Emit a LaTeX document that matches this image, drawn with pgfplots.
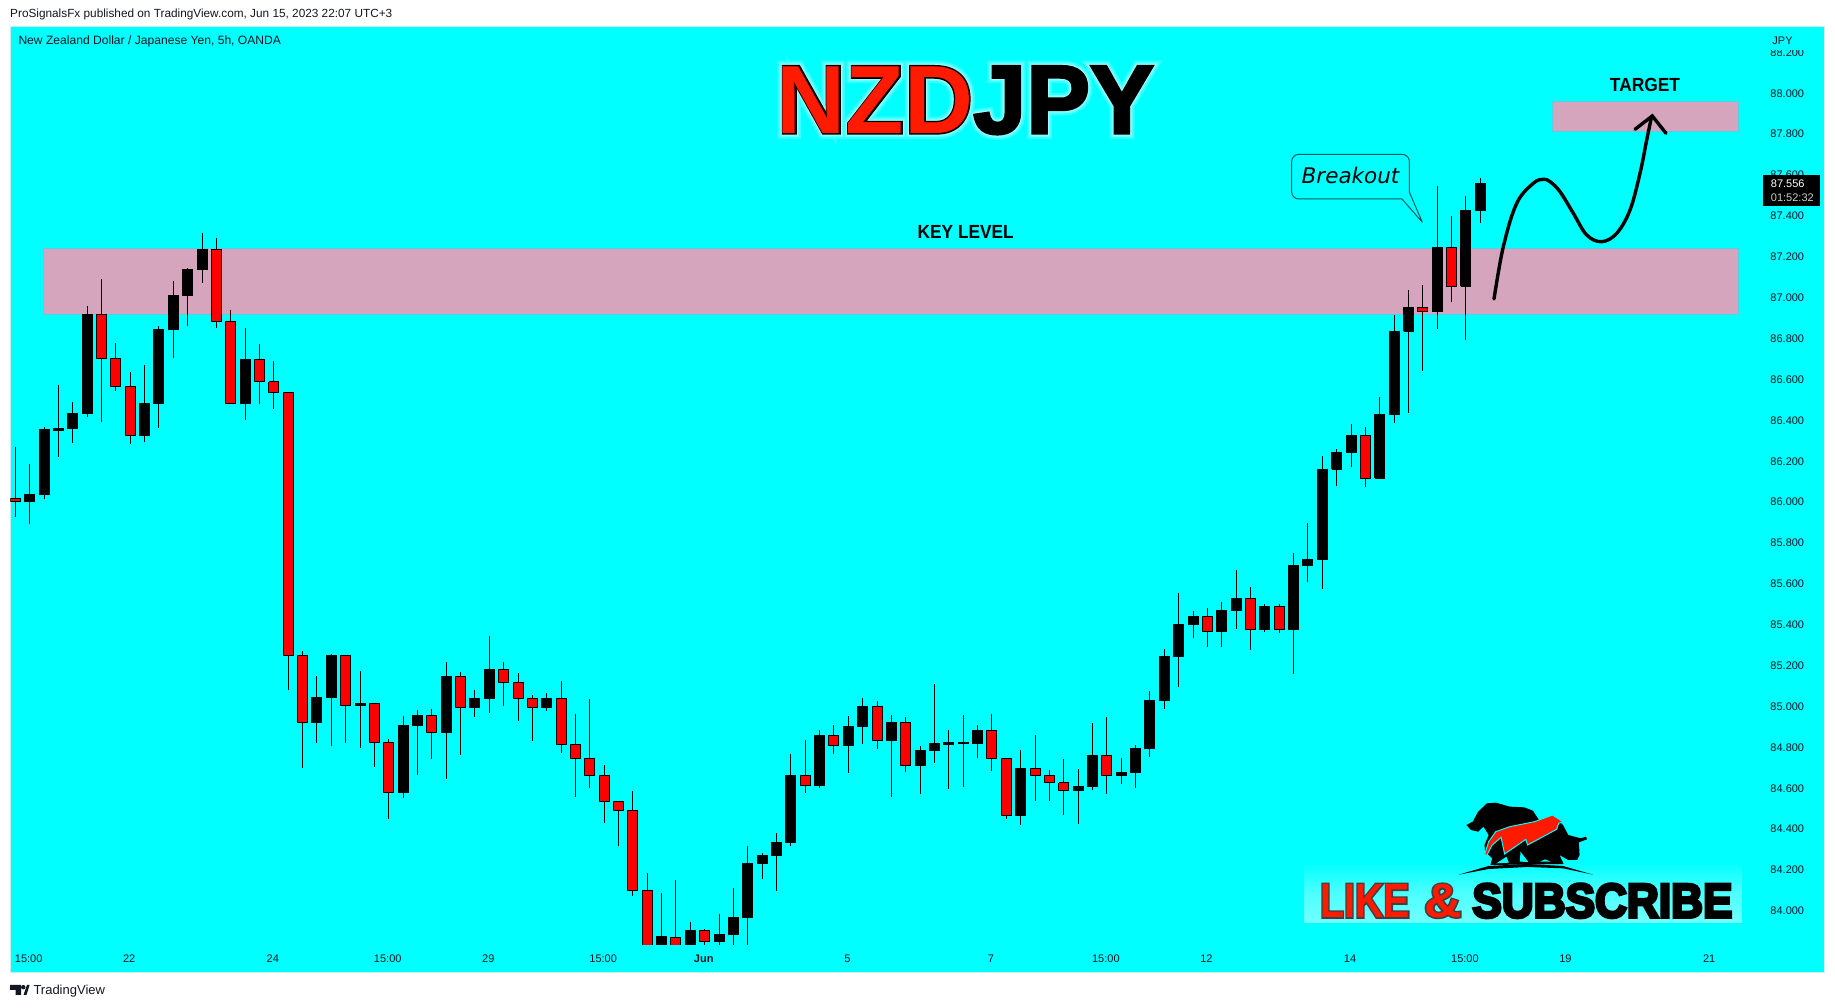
\documentclass[border=0pt]{standalone}
\usepackage{pgfplots}
\pgfplotsset{compat=1.18}
\usepackage{fontspec}
\setmainfont{Liberation Sans}
\newfontfamily\dejavu{DejaVu Sans}
\newfontface\tGa[FakeBold=12]{Liberation Sans Bold}
\newfontface\tGb[FakeBold=8]{Liberation Sans Bold}
\newfontface\tGc[FakeBold=5]{Liberation Sans Bold}
\newfontface\tO[FakeBold=3]{Liberation Sans Bold}
\newfontface\lO[FakeBold=6.5]{Liberation Sans Bold}
\newfontface\tF{Liberation Sans Bold}
\definecolor{bgc}{RGB}{0,255,255}
\definecolor{cndl}{RGB}{255,0,0}
\definecolor{zone}{RGB}{213,165,189}
\definecolor{zoneb}{RGB}{90,205,230}
\definecolor{ink}{RGB}{19,23,34}
\definecolor{tred}{RGB}{255,26,0}
\definecolor{frame}{RGB}{205,238,240}
\newcommand\fs[1]{\fontsize{#1}{#1}\selectfont}
% one candle: index, open, high, low, close
\newcommand\C[5]{%
  \pgfmathsetmacro\xa{#1-0.348}\pgfmathsetmacro\xb{#1+0.348}%
  \addplot[forget plot,black,line width=1pt] coordinates {(#1,#4)(#1,#3)};%
  \ifdim#5pt>#2pt
    \addplot[forget plot,draw=black,fill=black,line width=1pt] coordinates {(\xa,#2)(\xb,#2)(\xb,#5)(\xa,#5)(\xa,#2)};%
  \else
    \addplot[forget plot,draw=black,fill=cndl,line width=1pt] coordinates {(\xa,#2)(\xb,#2)(\xb,#5)(\xa,#5)(\xa,#2)};%
  \fi
}
\begin{document}
\begin{tikzpicture}
\path[fill=white] (0,0) rectangle (1835pt,1008pt);
\useasboundingbox (0,0) rectangle (1835pt,1008pt);
\begin{axis}[
  at={(10.3pt,35.7pt)},anchor=south west,scale only axis,
  width=1814pt,height=945.6pt,
  xmin=-0.348,xmax=125.95,ymin=83.695,ymax=88.321,
  axis background/.style={fill=bgc},
  axis line style={draw=frame,line width=1pt},
  major tick length=0pt,
  ytick={84,84.2,84.4,84.6,84.8,85,85.2,85.4,85.6,85.8,86,86.2,86.4,86.6,86.8,87,87.2,87.4,87.6,87.8,88,88.2},
  yticklabel pos=right,
  /pgf/number format/assume math mode=true,
  /pgf/number format/fixed,/pgf/number format/fixed zerofill,/pgf/number format/precision=3,
  yticklabel style={anchor=east,inner sep=0pt,xshift=-20pt,yshift=-1pt,text=ink,font=\fs{11}},
  xtick={0.93,7.93,17.93,25.93,32.93,40.93,47.93,57.93,67.93,75.93,82.93,92.93,100.93,107.93,117.93},
  xticklabels={15:00,22,24,15:00,29,15:00,{\bfseries Jun},5,7,15:00,12,14,15:00,19,21},
  xticklabel style={anchor=center,inner sep=0pt,yshift=14pt,text=ink,font=\fs{11}},
]
% key level and target zones
\addplot[forget plot,draw=zoneb,fill=zone,line width=0.8pt] coordinates {(1.95,86.914)(119.96,86.914)(119.96,87.235)(1.95,87.235)(1.95,86.914)};
\addplot[forget plot,draw=zoneb,fill=zone,line width=0.8pt] coordinates {(107.01,87.809)(119.96,87.809)(119.96,87.954)(107.01,87.954)(107.01,87.809)};
\C{0}{86.014}{86.263}{85.924}{85.998}
\C{1}{85.998}{86.182}{85.888}{86.034}
\C{2}{86.032}{86.363}{86.009}{86.348}
\C{3}{86.345}{86.568}{86.218}{86.356}
\C{4}{86.353}{86.485}{86.286}{86.430}
\C{5}{86.428}{86.954}{86.413}{86.915}
\C{6}{86.912}{87.085}{86.389}{86.699}
\C{7}{86.699}{86.772}{86.540}{86.562}
\C{8}{86.562}{86.630}{86.281}{86.322}
\C{9}{86.320}{86.664}{86.291}{86.478}
\C{10}{86.477}{86.857}{86.360}{86.840}
\C{11}{86.839}{87.077}{86.702}{87.007}
\C{12}{87.005}{87.140}{86.857}{87.134}
\C{13}{87.132}{87.310}{87.069}{87.232}
\C{14}{87.232}{87.285}{86.849}{86.879}
\C{15}{86.879}{86.935}{86.478}{86.478}
\C{16}{86.477}{86.845}{86.399}{86.694}
\C{17}{86.694}{86.767}{86.477}{86.584}
\C{18}{86.584}{86.684}{86.452}{86.531}
\C{19}{86.532}{86.532}{85.078}{85.244}
\C{20}{85.245}{85.267}{84.696}{84.918}
\C{21}{84.916}{85.144}{84.818}{85.040}
\C{22}{85.038}{85.252}{84.804}{85.245}
\C{23}{85.245}{85.245}{84.818}{84.999}
\C{24}{84.999}{85.169}{84.794}{85.011}
\C{25}{85.011}{85.011}{84.701}{84.820}
\C{26}{84.820}{84.835}{84.447}{84.575}
\C{27}{84.575}{84.947}{84.549}{84.903}
\C{28}{84.901}{84.978}{84.662}{84.952}
\C{29}{84.952}{84.983}{84.740}{84.869}
\C{30}{84.867}{85.213}{84.642}{85.143}
\C{31}{85.143}{85.164}{84.760}{84.991}
\C{32}{84.990}{85.076}{84.945}{85.035}
\C{33}{85.034}{85.340}{84.965}{85.177}
\C{34}{85.177}{85.211}{84.999}{85.113}
\C{35}{85.113}{85.157}{84.926}{85.034}
\C{36}{85.035}{85.051}{84.828}{84.990}
\C{37}{84.990}{85.060}{84.975}{85.035}
\C{38}{85.035}{85.120}{84.769}{84.810}
\C{39}{84.810}{84.959}{84.554}{84.742}
\C{40}{84.742}{85.032}{84.598}{84.659}
\C{41}{84.659}{84.709}{84.427}{84.531}
\C{42}{84.531}{84.531}{84.315}{84.487}
\C{43}{84.487}{84.580}{84.070}{84.096}
\C{44}{84.096}{84.179}{83.800}{83.800}
\C{45}{83.800}{84.083}{83.800}{83.868}
\C{46}{83.866}{84.147}{83.800}{83.800}
\C{47}{83.800}{83.941}{83.800}{83.901}
\C{48}{83.901}{83.907}{83.800}{83.845}
\C{49}{83.845}{83.981}{83.800}{83.881}
\C{50}{83.879}{84.106}{83.800}{83.964}
\C{51}{83.963}{84.311}{83.800}{84.228}
\C{52}{84.227}{84.277}{84.153}{84.267}
\C{53}{84.266}{84.375}{84.095}{84.331}
\C{54}{84.329}{84.763}{84.315}{84.659}
\C{55}{84.659}{84.831}{84.574}{84.610}
\C{56}{84.608}{84.879}{84.598}{84.854}
\C{57}{84.854}{84.903}{84.765}{84.804}
\C{58}{84.804}{84.947}{84.672}{84.898}
\C{59}{84.897}{85.035}{84.813}{84.996}
\C{60}{84.996}{85.020}{84.789}{84.830}
\C{61}{84.828}{84.952}{84.554}{84.918}
\C{62}{84.918}{84.942}{84.677}{84.708}
\C{63}{84.706}{84.802}{84.569}{84.782}
\C{64}{84.779}{85.105}{84.721}{84.812}
\C{65}{84.807}{84.880}{84.593}{84.817}
\C{66}{84.812}{84.954}{84.603}{84.817}
\C{67}{84.813}{84.905}{84.745}{84.880}
\C{68}{84.880}{84.959}{84.681}{84.740}
\C{69}{84.742}{84.742}{84.447}{84.461}
\C{70}{84.461}{84.781}{84.417}{84.693}
\C{71}{84.693}{84.856}{84.535}{84.657}
\C{72}{84.657}{84.685}{84.535}{84.623}
\C{73}{84.623}{84.737}{84.466}{84.584}
\C{74}{84.582}{84.688}{84.422}{84.605}
\C{75}{84.603}{84.913}{84.589}{84.756}
\C{76}{84.756}{84.942}{84.569}{84.657}
\C{77}{84.657}{84.742}{84.618}{84.673}
\C{78}{84.672}{84.805}{84.598}{84.791}
\C{79}{84.789}{85.069}{84.750}{85.025}
\C{80}{85.024}{85.275}{84.985}{85.241}
\C{81}{85.239}{85.549}{85.092}{85.397}
\C{82}{85.395}{85.461}{85.332}{85.436}
\C{83}{85.436}{85.475}{85.288}{85.361}
\C{84}{85.361}{85.505}{85.288}{85.465}
\C{85}{85.464}{85.663}{85.376}{85.524}
\C{86}{85.524}{85.578}{85.273}{85.371}
\C{87}{85.371}{85.495}{85.361}{85.485}
\C{88}{85.485}{85.495}{85.356}{85.371}
\C{89}{85.371}{85.744}{85.156}{85.687}
\C{90}{85.684}{85.891}{85.606}{85.715}
\C{91}{85.713}{86.222}{85.571}{86.156}
\C{92}{86.155}{86.256}{86.072}{86.239}
\C{93}{86.238}{86.378}{86.165}{86.323}
\C{94}{86.323}{86.363}{86.067}{86.112}
\C{95}{86.111}{86.508}{86.111}{86.425}
\C{96}{86.424}{86.911}{86.380}{86.831}
\C{97}{86.830}{87.032}{86.433}{86.949}
\C{98}{86.949}{87.056}{86.639}{86.927}
\C{99}{86.927}{87.540}{86.844}{87.242}
\C{100}{87.242}{87.395}{86.976}{87.051}
\C{101}{87.050}{87.493}{86.786}{87.423}
\C{102}{87.421}{87.579}{87.359}{87.555}
% the chart stops above the time scale
\addplot[forget plot,draw=none,fill=bgc] coordinates {(42,83.792)(53,83.792)(53,83.828)(42,83.828)(42,83.792)};
\end{axis}
% everything below in image pixels
\begin{scope}[x=1pt,y=-1pt,shift={(0pt,1008pt)}]
% header, footer
\node[anchor=west,inner sep=0pt,text=ink,font=\fs{11.8}] at (10,14.7) {ProSignalsFx published on TradingView.com, Jun 15, 2023 22:07 UTC+3};
\node[anchor=west,inner sep=0pt,text=ink,font=\fs{12.1}] at (18.3,41.7) {New Zealand Dollar / Japanese Yen, 5h, OANDA};
\fill[ink] (10,985)--(21,985)--(21,995)--(15.5,995)--(15.5,990)--(10,990)--cycle;
\fill[ink] (23.3,987.2) circle (2.2);
\fill[ink] (23.5,995)--(27,985)--(29.6,985)--(26.5,995)--cycle;
\node[anchor=west,inner sep=0pt,text=ink,font=\fs{13}] at (33.3,990.7) {TradingView};
% price scale top and price label
\fill[bgc] (1760,28) rectangle (1822,50.5);
\node[inner sep=0pt,text=ink,font=\fs{11}] at (1782.5,40.7) {JPY};
\fill[black] (1763,175) rectangle (1820,205.7);
\node[anchor=west,inner sep=0pt,text=white,font=\fs{11}] at (1770.7,183.7) {87.556};
\node[anchor=west,inner sep=0pt,text=black!20,font=\fs{11}] at (1770.7,197.7) {01:52:32};
% title
\node[inner sep=0pt,text=bgc!80!white] at (965.3,100.3) {\tGa\fs{97}\scalebox{.985}[1]{NZDJPY}};
\node[inner sep=0pt,text=bgc!60!white] at (965.3,100.3) {\tGb\fs{97}\scalebox{.985}[1]{NZDJPY}};
\node[inner sep=0pt,text=bgc!40!white] at (965.3,100.3) {\tGc\fs{97}\scalebox{.985}[1]{NZDJPY}};
\node[inner sep=0pt,text=black] at (965.3,100.3) {\tO\fs{97}\scalebox{.985}[1]{NZDJPY}};
\node[inner sep=0pt,text=tred] at (965.3,100.3) {\tF\fs{97}\scalebox{.985}[1]{NZD\textcolor{black}{JPY}}};
% notes
\node[inner sep=0pt,text=black] at (965.7,231.7) {\tF\fs{19}\scalebox{.91}[1]{KEY LEVEL}};
\node[inner sep=0pt,text=black] at (1645,85.3) {\tF\fs{19}\scalebox{.915}[1]{TARGET}};
% breakout callout
\draw[draw=black!30!teal,line width=1pt,rounded corners=7pt,fill=bgc] (1402,199)--(1291.7,199)--(1291.7,154.4)--(1409.3,154.4)--(1409.3,192);
\draw[draw=black!30!teal,line width=1pt,line join=round] (1402,199)--(1422.3,222.3)--(1409.3,192);
\node[inner sep=0pt,text=black] at (1350.5,175.7) {\dejavu\itshape\fs{21.5}Breakout};
% projected path
\draw[line width=3.4pt,line cap=round,line join=round] plot[smooth,tension=.6] coordinates {(1494,299)(1503.3,246.7)(1516.7,203.3)(1533.3,183.3)(1543.3,179.3)(1550,181.7)(1560,191.7)(1573.3,213.3)(1586.7,235)(1601.7,241.7)(1616.7,233.3)(1630,210)(1640,173.3)(1646.7,140)(1651.7,116)};
\draw[line width=3.4pt,line cap=round,line join=miter] (1635,129.3)--(1652.3,116)--(1666,133.3);
% subscribe banner
\shade[top color=bgc,bottom color=bgc!55!white,middle color=bgc!70!white] (1304,862) rectangle (1741.6,923);
\node[inner sep=0pt,text=black!75] at (1364.9,900.8) {\lO\fs{48}\scalebox{.82}[1]{LIKE}};
\node[inner sep=0pt,text=tred] at (1364.9,900.8) {\tF\fs{48}\scalebox{.82}[1]{LIKE}};
\node[inner sep=0pt,text=black!75] at (1442.7,900.8) {\lO\fs{48}\scalebox{1.08}[1]{\&}};
\node[inner sep=0pt,text=tred] at (1442.7,900.8) {\tF\fs{48}\scalebox{1.08}[1]{\&}};
\node[inner sep=0pt,text=black] at (1602.4,900.8) {\lO\fs{48}\scalebox{.92}[1]{SUBSCRIBE}};
\end{scope}
% bear and bull emblem, in the crop's units
\begin{scope}[x=0.3537pt,y=-0.3333pt,shift={(1280pt,228pt)}]
\fill[black] (527,135)--(545,125)--(560,95)--(585,70)--(610,68)--(650,80)--(690,82)--(715,92)--(732,120)--(790,125)--(800,135)--(815,165)--(850,175)--(865,170)--(868,178)--(845,187)--(847,225)--(840,240)--(815,240)--(790,225)--(802,252)--(595,255)--(600,235)--(580,215)--(578,195)--(590,165)--(575,140)--(560,155)--(540,150)--cycle;
\fill[bgc] (612,250)--(640,230)--(647,248)--cycle (680,215)--(702,246)--(678,245)--cycle (735,245)--(765,245)--(750,238)--cycle;
\draw[bgc,line width=1pt,fill=tred] (578,225)--(590,185)--(610,155)--(650,140)--(720,125)--(770,105)--(800,125)--(788,130)--(782,148)--(700,195)--(695,178)--(635,222)--(625,172)--(600,195)--(585,225)--cycle;
\fill[black] (505,284)--(590,258)--(700,252)--(800,258)--(885,284)--(800,265)--(700,261)--(590,267)--cycle;
\end{scope}
\end{tikzpicture}
\end{document}
